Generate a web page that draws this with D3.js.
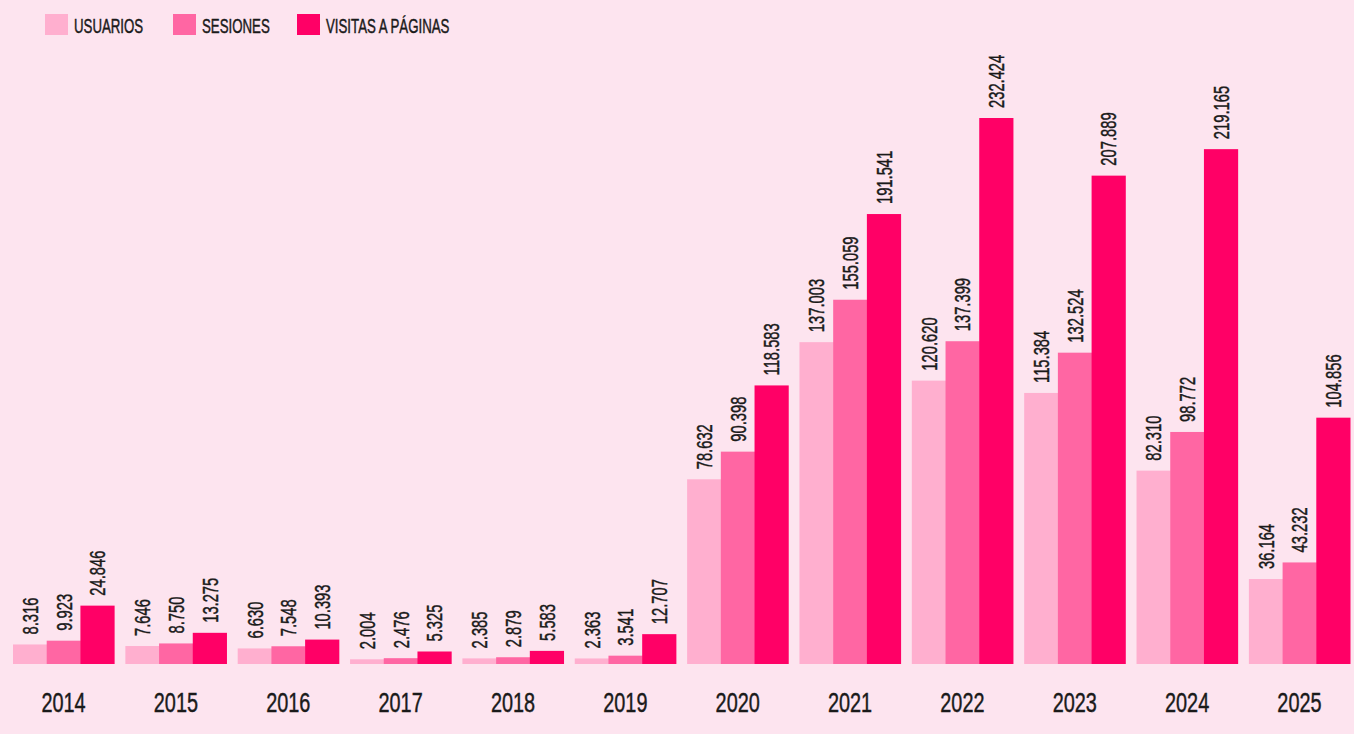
<!DOCTYPE html>
<html>
<head>
<meta charset="utf-8">
<script src="https://cdn.jsdelivr.net/npm/d3@7"></script>
<style>
  html, body { margin: 0; padding: 0; background: #fde4ef; }
  svg { display: block; }
  text { font-family: "Liberation Sans", Arial, sans-serif; fill: #1a1a1a; stroke: #1a1a1a; stroke-width: 0.45px; }
</style>
</head>
<body>
<svg id="chart" width="1354" height="734"></svg>
<script>
// data
const years = ["2014", "2015", "2016", "2017", "2018", "2019", "2020", "2021", "2022", "2023", "2024", "2025"];
const series = ["USUARIOS", "SESIONES", "VISITAS A PÁGINAS"];
const usuarios = [8316, 7646, 6630, 2004, 2385, 2363, 78632, 137003, 120620, 115384, 82310, 36164];
const sesiones = [9923, 8750, 7548, 2476, 2879, 3541, 90398, 155059, 137399, 132524, 98772, 43232];
const visitas = [24846, 13275, 10393, 5325, 5583, 12707, 118583, 191541, 232424, 207889, 219165, 104856];
const colors = ["#ffafcf", "#ff66a3", "#ff0066"];

const width = 1354, height = 734;
const baseY = 664, topY = 118;

const svg = d3.select("#chart");
svg.append("rect").attr("width", width).attr("height", height).attr("fill", "#fde4ef");

const values = [usuarios, sesiones, visitas];
const rows = years.map((y, i) => ({year: y, vals: values.map(s => s[i])}));

const x0 = d3.scaleBand().domain(years).range([13, 1350]).paddingInner(0.1);
const x1 = d3.scaleBand().domain(d3.range(series.length)).range([0, x0.bandwidth()]);
const y = d3.scaleLinear().domain([0, d3.max(visitas)]).range([baseY, topY]);

const groups = svg.selectAll("g.year").data(rows).enter()
  .append("g").attr("class", "year")
  .attr("transform", d => "translate(" + x0(d.year) + ",0)");

groups.selectAll("rect").data(d => d.vals).enter()
  .append("rect")
  .attr("x", (v, j) => x1(j))
  .attr("width", x1.bandwidth() + 0.5)
  .attr("y", v => y(v))
  .attr("height", v => baseY - y(v))
  .attr("fill", (v, j) => colors[j]);

// value labels, rotated above each bar (font squeezed to look condensed)
const fmt = v => d3.format(",")(v).replace(/,/g, ".");
groups.selectAll("text.val").data(d => d.vals).enter()
  .append("text").attr("class", "val")
  .attr("transform", (v, j) => "translate(" + (x1(j) + x1.bandwidth() / 2 + 8) + "," + (y(v) - 10) + ") rotate(-90) scale(0.67,1)")
  .attr("font-size", 22)
  .text(fmt);

// year labels
svg.selectAll("text.yr").data(years).enter()
  .append("text").attr("class", "yr")
  .attr("transform", d => "translate(" + (x0(d) + x0.bandwidth() / 2) + ",712) scale(0.71,1)")
  .attr("text-anchor", "middle")
  .attr("font-size", 28)
  .text(d => d);

// legend
const legX = [45, 173, 297];
const leg = svg.selectAll("g.leg").data(series).enter()
  .append("g").attr("class", "leg")
  .attr("transform", (d, i) => "translate(" + legX[i] + ",14)");
leg.append("rect").attr("width", 23).attr("height", 21).attr("fill", (d, i) => colors[i]);
leg.append("text")
  .attr("transform", "translate(29,19) scale(0.68,1)")
  .attr("font-size", 19.5)
  .text(d => d);
</script>
</body>
</html>
